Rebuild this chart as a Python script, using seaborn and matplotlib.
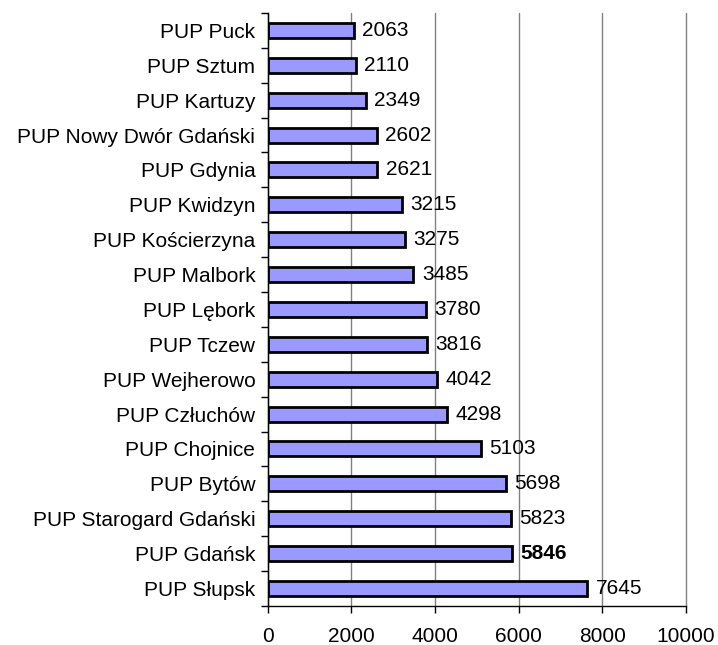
import numpy as np
import pandas as pd
import seaborn as sns
import matplotlib.pyplot as plt
from matplotlib.ticker import FixedLocator

offices = ['PUP Puck', 'PUP Sztum', 'PUP Kartuzy', 'PUP Nowy Dwór Gdański',
           'PUP Gdynia', 'PUP Kwidzyn', 'PUP Kościerzyna', 'PUP Malbork',
           'PUP Lębork', 'PUP Tczew', 'PUP Wejherowo', 'PUP Człuchów',
           'PUP Chojnice', 'PUP Bytów', 'PUP Starogard Gdański',
           'PUP Gdańsk', 'PUP Słupsk']
counts = [2063, 2110, 2349, 2602, 2621, 3215, 3275, 3485, 3780, 3816,
          4042, 4298, 5103, 5698, 5823, 5846, 7645]
highlight = 'PUP Gdańsk'

df = pd.DataFrame({'office': offices, 'count': counts})

sns.set_style('white')
plt.rcParams['font.family'] = ['Liberation Sans', 'DejaVu Sans']
plt.rcParams['text.color'] = 'black'
plt.rcParams['xtick.color'] = 'black'
plt.rcParams['ytick.color'] = 'black'

fig = plt.figure(figsize=(7.18, 6.45), dpi=100)
ax = fig.add_axes([0.373, 0.0605, 0.582, 0.9195])

sns.barplot(data=df, x='count', y='office', orient='h', color='#9999ff',
            edgecolor='black', linewidth=2, width=0.43, saturation=1, ax=ax)

ax.set_xlim(0, 10000)
ax.set_ylim(len(offices) - 0.5, -0.5)
ax.set_xticks(np.arange(0, 10001, 2000))
ax.xaxis.grid(True, color='#808080', linewidth=1)
for gl in ax.get_xgridlines():
    gl.set_clip_on(False)
ax.set_axisbelow(True)
ax.set_xlabel('')
ax.set_ylabel('')

for s in ['top', 'right']:
    ax.spines[s].set_visible(False)
for s in ['left', 'bottom']:
    ax.spines[s].set_color('black')
    ax.spines[s].set_linewidth(1)

ax.tick_params(axis='y', which='major', length=0, labelsize=15, pad=9)
ax.yaxis.set_minor_locator(FixedLocator(np.arange(-0.5, len(offices), 1)))
ax.tick_params(axis='y', which='minor', length=5, width=1, color='black', left=True)
ax.tick_params(axis='x', length=5, width=1, color='black', labelsize=15, pad=10, bottom=True)

for i, (name, val) in enumerate(zip(offices, counts)):
    ax.annotate(str(val), (val, i), xytext=(6, 0), textcoords='offset points',
                va='center', ha='left', fontsize=15,
                fontweight='bold' if name == highlight else 'normal')

fig.savefig('out.png', dpi=100)
